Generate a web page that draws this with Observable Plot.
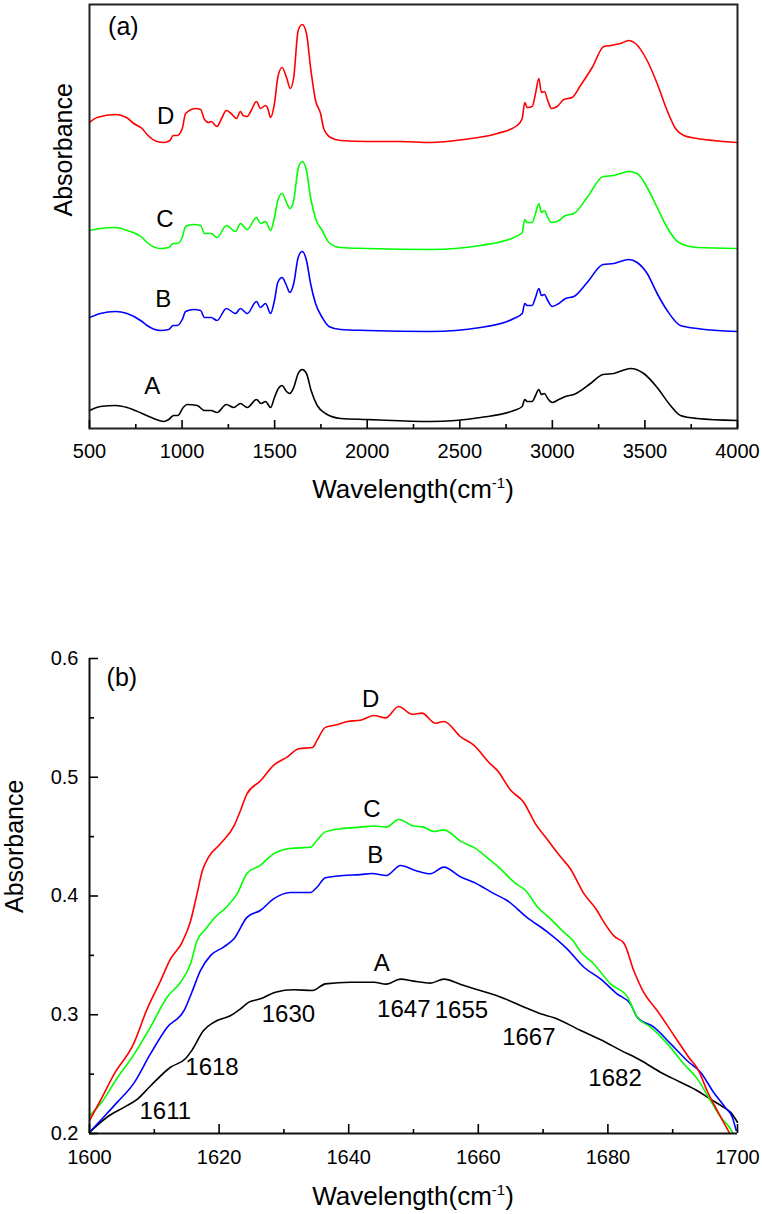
<!DOCTYPE html>
<html>
<head>
<meta charset="utf-8">
<script src="https://cdn.jsdelivr.net/npm/d3@7"></script>
<script src="https://cdn.jsdelivr.net/npm/@observablehq/plot@0.6"></script>
<style>
  html, body { margin: 0; padding: 0; background: #ffffff; }
  #chart { width: 762px; height: 1214px; font-family: "Liberation Sans", Arial, sans-serif; }
  #chart svg { display: block; }
</style>
</head>
<body>
<div id="chart"></div>
<script>
// ---------------- Series ----------------
const seriesNames = ["A", "B", "C", "D"];
const seriesColors = ["#000000", "#0000ff", "#00ff00", "#ff0000"];

// ---------------- Panel (a): full FTIR spectra (stacked, arbitrary units) ----------------
const aWaveA = [500,559,640,703,784,847,901,928,955,977,1006,1027,1082,1121,1157,1189,1239,1279,1315,1352,1402,1427,1451,1478,1499,1517,1540,1564,1582,1603,1627,1649,1672,1697,1730,1775,1856,2000,2342,2612,2792,2837,2851,2864,2891,2909,2927,2941,2957,2975,2999,3035,3071,3116,3206,3274,3332,3422,3494,3566,3638,3692,3782,3998];
const aAbsA  = [0.18,0.22,0.23,0.21,0.15,0.10,0.07,0.09,0.13,0.13,0.21,0.24,0.23,0.18,0.18,0.16,0.24,0.21,0.25,0.21,0.29,0.25,0.27,0.21,0.31,0.39,0.43,0.37,0.35,0.41,0.55,0.59,0.55,0.38,0.23,0.15,0.10,0.09,0.07,0.11,0.18,0.22,0.29,0.27,0.27,0.33,0.39,0.34,0.35,0.30,0.26,0.29,0.32,0.34,0.45,0.54,0.55,0.60,0.55,0.41,0.23,0.13,0.10,0.08];

const aWaveB = [500,559,640,703,784,811,883,928,952,974,1001,1019,1063,1100,1121,1157,1189,1239,1289,1315,1352,1402,1423,1451,1478,1499,1517,1540,1564,1582,1603,1627,1649,1672,1694,1721,1757,1793,1856,2000,2342,2612,2792,2837,2851,2864,2891,2909,2927,2941,2957,2975,2999,3035,3071,3116,3188,3274,3332,3413,3458,3512,3566,3620,3692,3782,3998];
const aAbsB  = [1.11,1.15,1.17,1.15,1.07,1.03,0.98,0.99,1.03,1.03,1.09,1.17,1.19,1.18,1.11,1.11,1.08,1.20,1.15,1.20,1.15,1.27,1.21,1.25,1.15,1.28,1.46,1.51,1.43,1.36,1.45,1.71,1.77,1.68,1.45,1.25,1.11,1.02,0.99,0.98,0.97,1.01,1.10,1.15,1.25,1.23,1.23,1.31,1.40,1.33,1.34,1.28,1.22,1.25,1.30,1.32,1.46,1.64,1.65,1.69,1.66,1.55,1.35,1.18,1.03,1.00,0.97];

const aWaveC = [500,559,640,703,784,811,883,928,952,974,1001,1019,1063,1100,1121,1157,1189,1239,1289,1315,1352,1402,1423,1451,1478,1499,1517,1540,1564,1582,1603,1627,1649,1672,1694,1721,1757,1793,1856,2000,2342,2612,2792,2837,2851,2864,2891,2909,2927,2941,2957,2975,2995,3026,3071,3116,3188,3274,3332,3413,3458,3512,3566,3620,3683,3782,3998];
const aAbsC  = [1.98,2.00,2.01,1.98,1.91,1.86,1.80,1.81,1.85,1.85,1.91,2.02,2.04,2.03,1.95,1.95,1.91,2.03,1.97,2.05,1.99,2.11,2.05,2.07,1.98,2.11,2.28,2.35,2.26,2.20,2.28,2.60,2.67,2.58,2.31,2.10,1.98,1.86,1.81,1.80,1.79,1.83,1.91,1.96,2.09,2.06,2.06,2.15,2.25,2.16,2.18,2.11,2.06,2.07,2.13,2.15,2.31,2.52,2.53,2.57,2.55,2.41,2.21,2.01,1.86,1.81,1.80];

const aWaveD = [500,541,640,700,739,784,811,865,901,934,952,974,1001,1019,1073,1100,1121,1144,1157,1189,1211,1239,1265,1294,1315,1330,1352,1373,1402,1423,1451,1463,1478,1499,1517,1540,1564,1585,1603,1627,1649,1672,1694,1721,1748,1765,1802,1856,2000,2180,2342,2522,2702,2810,2837,2851,2864,2891,2909,2927,2941,2957,2975,2995,3026,3062,3107,3152,3215,3278,3314,3368,3413,3449,3512,3566,3620,3665,3710,3782,3872,3998];
const aAbsD  = [3.06,3.11,3.14,3.11,3.05,3.00,2.94,2.87,2.86,2.88,2.93,2.93,3.00,3.15,3.20,3.19,3.09,3.06,3.07,3.02,3.09,3.18,3.15,3.10,3.17,3.13,3.12,3.18,3.27,3.20,3.23,3.20,3.11,3.25,3.51,3.61,3.51,3.40,3.51,3.98,4.04,3.95,3.61,3.28,3.15,3.00,2.91,2.88,2.87,2.87,2.86,2.89,2.95,3.03,3.10,3.26,3.21,3.22,3.35,3.50,3.36,3.37,3.28,3.20,3.22,3.29,3.31,3.43,3.61,3.82,3.83,3.85,3.88,3.85,3.68,3.45,3.18,3.00,2.93,2.90,2.88,2.86];

const aTicksMajor = [500,1000,1500,2000,2500,3000,3500,4000];
const aTicksMinor = [750,1250,1750,2250,2750,3250,3750];
const aLabelText = ["A","B","C","D"];
const aLabelX = [839, 899, 907, 912];
const aLabelY = [0.42, 1.29, 2.09, 3.12];

// ---------------- Panel (b): amide I region ----------------
const bWaveA = [1600,1602.7,1605.3,1607.4,1609.4,1612.5,1614.8,1615.8,1617.6,1619.2,1621.8,1623.3,1624.6,1626.4,1628.7,1631.5,1634.4,1636.4,1640.3,1643.9,1645.8,1648,1650,1652.6,1654.7,1657.3,1660.3,1662.9,1666.5,1669.6,1671.7,1675.8,1678.9,1682,1685.1,1688.1,1691.2,1693.8,1695.8,1697.9,1698.9,1700];
const bAbsA  = [0.201,0.2137,0.222,0.229,0.240,0.2558,0.263,0.270,0.2867,0.2937,0.2994,0.305,0.3106,0.3134,0.319,0.321,0.3204,0.326,0.3274,0.3274,0.3258,0.330,0.3283,0.3266,0.330,0.3255,0.3204,0.316,0.3078,0.3008,0.2975,0.2867,0.2789,0.270,0.2615,0.2516,0.2432,0.236,0.229,0.222,0.218,0.2095];

const bWaveB = [1600,1601.7,1604.3,1606.8,1609.4,1612,1614.6,1615.8,1617.1,1618.7,1620.7,1622.3,1624.3,1626.4,1628.4,1631,1634.1,1635.1,1636.4,1639.2,1641.8,1643.6,1645.8,1648,1650.3,1652.6,1654.7,1657.3,1659.3,1662.4,1664.5,1667.5,1670.6,1673.7,1676.3,1678.9,1681.4,1683.5,1684.5,1687.1,1689.7,1692.2,1694.3,1696.3,1698.1,1699.2,1699.8];
const bAbsB  = [0.201,0.211,0.2264,0.242,0.267,0.2895,0.3036,0.319,0.337,0.350,0.357,0.364,0.382,0.388,0.3976,0.403,0.403,0.4074,0.4153,0.4173,0.418,0.419,0.4173,0.4257,0.4215,0.4187,0.4243,0.416,0.4116,0.402,0.396,0.382,0.370,0.3555,0.340,0.330,0.3176,0.309,0.298,0.2895,0.2755,0.2615,0.2516,0.2348,0.222,0.2137,0.2025];

const bWaveC = [1600,1601.7,1604.3,1606.8,1609.4,1612,1614,1615.6,1616.6,1617.9,1619.2,1621.2,1622.8,1624.3,1626.4,1628.4,1631,1634.1,1635.1,1636.4,1638.7,1641.8,1643.9,1645.8,1647.7,1650,1651.6,1653.1,1654.7,1657.3,1659.3,1661.9,1663.4,1665.5,1667.3,1669.1,1671.1,1672.9,1674.6,1675.8,1677.8,1680.4,1683,1684.5,1686.6,1689.2,1691.7,1693.8,1695.8,1697.4,1698.9,1699.3];
const bAbsC  = [0.215,0.225,0.247,0.266,0.2895,0.315,0.327,0.343,0.3625,0.372,0.381,0.391,0.402,0.419,0.426,0.4355,0.440,0.441,0.447,0.454,0.4566,0.458,0.459,0.458,0.4644,0.459,0.458,0.4543,0.4557,0.446,0.441,0.430,0.423,0.4116,0.4046,0.391,0.381,0.371,0.3625,0.353,0.343,0.326,0.315,0.298,0.2895,0.2755,0.2587,0.246,0.228,0.2137,0.204,0.200];

const bWaveD = [1600,1601.7,1603.8,1606.8,1608.9,1611,1612.5,1614.3,1615.6,1616.6,1617.4,1618.4,1620.2,1622.3,1623.3,1624.3,1626.4,1628.4,1630.5,1632.3,1634.4,1635.1,1636.4,1638,1639.8,1641.8,1643.9,1645.7,1647.7,1649.8,1651.3,1653.4,1654.7,1657.3,1659.3,1661.9,1662.9,1665,1667,1668.8,1670.6,1672.7,1674.2,1676.3,1678.3,1679.5,1681,1682.5,1684,1685.5,1687.6,1690.2,1692.5,1694,1695.3,1696.9,1698.4,1698.8];
const bAbsD  = [0.211,0.228,0.250,0.2755,0.305,0.329,0.347,0.361,0.379,0.402,0.421,0.433,0.444,0.459,0.472,0.486,0.497,0.510,0.517,0.524,0.525,0.531,0.542,0.544,0.547,0.548,0.552,0.550,0.5596,0.553,0.554,0.5455,0.547,0.534,0.527,0.511,0.506,0.489,0.479,0.461,0.448,0.433,0.423,0.402,0.388,0.377,0.366,0.360,0.337,0.319,0.3036,0.2825,0.264,0.253,0.236,0.219,0.204,0.200];

const bTicksXMajor = [1600,1620,1640,1660,1680,1700];
const bTicksXMinor = [1610,1630,1650,1670,1690];
const bTicksYMajor = [0.2,0.3,0.4,0.5,0.6];
const bTicksYMinor = [0.25,0.35,0.45,0.55];
const bLabelText = ["A","B","C","D"];
const bLabelX = [1645.1, 1644.1, 1643.6, 1643.4];
const bLabelY = [0.343, 0.434, 0.473, 0.566];
const bPeakText = ["1611","1618","1630","1647","1655","1667","1682"];
const bPeakX = [1611.7, 1618.9, 1630.7, 1648.5, 1657.4, 1667.8, 1681.1];
const bPeakY = [0.219, 0.256, 0.300, 0.3044, 0.3036, 0.281, 0.2465];

// ---------------- helpers ----------------
function rows(waves, values) {
  return seriesNames.flatMap((s, i) => {
    const w = waves[i], v = values[i], n = Math.min(w.length, v.length);
    return d3.range(n).map(j => ({s, w: w[j], v: v[j]}));
  });
}
const rowsA = rows([aWaveA, aWaveB, aWaveC, aWaveD], [aAbsA, aAbsB, aAbsC, aAbsD]);
const rowsB = rows([bWaveA, bWaveB, bWaveC, bWaveD], [bAbsA, bAbsB, bAbsC, bAbsD]);
const font = "'Liberation Sans', Arial, sans-serif";

function addXLabel(svg, y) {
  const t = d3.select(svg).append("text")
    .attr("x", 413).attr("y", y)
    .attr("text-anchor", "middle")
    .attr("font-family", font)
    .attr("font-size", 26)
    .attr("fill", "#000");
  t.append("tspan").text("Wavelength(cm");
  t.append("tspan").attr("font-size", 15).attr("dy", -10).text("-1");
  t.append("tspan").attr("dy", 10).text(")");
}

// ---------------- Panel (a) ----------------
const plotA = Plot.plot({
  width: 762, height: 620,
  marginLeft: 89, marginRight: 25, marginTop: 4, marginBottom: 192,
  style: {fontFamily: font, color: "#000", background: "#fff"},
  x: {domain: [500, 4000]},
  y: {domain: [0, 4.24], axis: null},
  color: {domain: seriesNames, range: seriesColors},
  marks: [
    Plot.line(rowsA, {x: "w", y: "v", z: "s", stroke: "s", strokeWidth: 1.6, curve: "monotone-x"}),
    Plot.frame({stroke: "#222", strokeWidth: 2}),
    Plot.axisX(aTicksMajor, {tickSize: -8, tickPadding: 23, strokeWidth: 1.6, fontSize: 20, tickFormat: d3.format("d"), label: null}),
    Plot.axisX(aTicksMinor, {tickSize: -4, strokeWidth: 1.6, fill: "none", label: null}),
    Plot.text(aLabelText, {x: (d, i) => aLabelX[i], y: (d, i) => aLabelY[i], text: d => d, fontSize: 24, fill: "#000"}),
    Plot.text(["(a)"], {x: 683, y: 4.02, text: d => d, fontSize: 25, fill: "#000"}),
    Plot.text(["Absorbance"], {frameAnchor: "left", dx: -26, rotate: -90, text: d => d, fontSize: 25, fill: "#000"})
  ]
});
addXLabel(plotA, 498);

// ---------------- Panel (b) ----------------
const plotB = Plot.plot({
  width: 762, height: 594,
  marginLeft: 89, marginRight: 25, marginTop: 38, marginBottom: 81,
  style: {fontFamily: font, color: "#000", background: "#fff"},
  x: {domain: [1600, 1700]},
  y: {domain: [0.2, 0.6]},
  color: {domain: seriesNames, range: seriesColors},
  marks: [
    Plot.line(rowsB, {x: "w", y: "v", z: "s", stroke: "s", strokeWidth: 1.6, curve: "monotone-x"}),
    Plot.ruleX([1600], {stroke: "#111", strokeWidth: 2}),
    Plot.ruleY([0.2], {stroke: "#111", strokeWidth: 2}),
    Plot.axisX(bTicksXMajor, {tickSize: -9, tickPadding: 25, strokeWidth: 1.6, fontSize: 20, tickFormat: d3.format("d"), label: null}),
    Plot.axisX(bTicksXMinor, {tickSize: -4, strokeWidth: 1.6, fill: "none", label: null}),
    Plot.axisY(bTicksYMajor, {tickSize: -9, tickPadding: 20, strokeWidth: 1.6, fontSize: 20, tickFormat: d3.format(".1f"), label: null}),
    Plot.axisY(bTicksYMinor, {tickSize: -5, strokeWidth: 1.6, fill: "none", label: null}),
    Plot.text(bLabelText, {x: (d, i) => bLabelX[i], y: (d, i) => bLabelY[i], text: d => d, fontSize: 24, fill: "#000"}),
    Plot.text(bPeakText, {x: (d, i) => bPeakX[i], y: (d, i) => bPeakY[i], text: d => d, fontSize: 24, fill: "#000"}),
    Plot.text(["(b)"], {x: 1605, y: 0.584, text: d => d, fontSize: 25, fill: "#000"}),
    Plot.text(["Absorbance"], {frameAnchor: "left", dx: -75, dy: 17, rotate: -90, text: d => d, fontSize: 25, fill: "#000"})
  ]
});
addXLabel(plotB, 585);

const chart = document.getElementById("chart");
chart.append(plotA, plotB);
</script>
</body>
</html>
